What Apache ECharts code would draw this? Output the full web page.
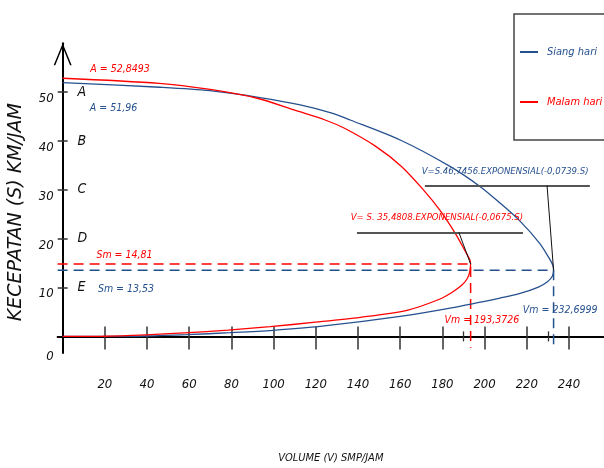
<!DOCTYPE html>
<html>
<head>
<meta charset="utf-8">
<script src="https://cdn.jsdelivr.net/npm/echarts@6/dist/echarts.min.js"></script>
<style>
  html, body { margin: 0; padding: 0; background: #fff; }
  #chart { width: 604px; height: 468px; }
</style>
</head>
<body>
<div id="chart"></div>
<script>
// Hubungan kecepatan – volume, siang hari dan malam hari
const seriesNames = ['Siang hari', 'Malam hari'];

// [volume V (smp/jam), kecepatan S (km/jam)] along each curve, free flow -> capacity -> jam
const siangCurve = [
  [0, 51.96], [46.1, 51.0], [69.8, 50.3], [93.5, 48.9], [112.6, 47.4], [126.8, 45.8],
  [136.3, 44.3], [160.0, 40.2], [183.6, 34.8], [197.8, 30.7], [207.3, 27.3], [216.8, 23.6],
  [226.2, 19.0], [231.0, 15.7], [232.4, 14.5], [232.6999, 13.53], [232.1, 12.3], [229.8, 11.2],
  [225.5, 10.1], [216.8, 8.8], [207.3, 7.85], [183.6, 5.8], [160.0, 4.1], [122.0, 2.04],
  [99.8, 1.25], [79.3, 0.76], [58.8, 0.35], [39.8, 0.08], [19.0, 0], [0, 0]
];
const malamCurve = [
  [0, 52.8493], [45.8, 51.8], [69.1, 50.6], [92.2, 48.75], [110.7, 46.2], [124.4, 44.3],
  [133.6, 42.6], [148.4, 38.9], [160.6, 34.8], [171.0, 30.0], [178.7, 25.9], [186.1, 21.1],
  [190.5, 17.7], [192.9, 15.8], [193.3726, 14.81], [192.9, 13.1], [191.6, 11.7], [189.0, 10.4],
  [184.5, 9.0], [178.6, 7.6], [163.7, 5.4], [141.0, 3.9], [119.8, 2.9], [98.3, 2.0],
  [78.4, 1.3], [57.8, 0.7], [39.6, 0.3], [19.1, 0.03], [0, 0]
];

// capacity points and free-flow speeds
const freeFlow = { siang: 51.96, malam: 52.8493 };
const capacity = {
  siang: { sm: 13.53, vm: 232.6999 },
  malam: { sm: 14.81, vm: 193.3726 }
};
const equations = {
  siang: 'V=S.46,7456.EXPONENSIAL(-0,0739.S)',
  malam: 'V= S. 35,4808.EXPONENSIAL(-0,0675.S)'
};

// axis ticks and level-of-service letters
const volumeTicks = [20, 40, 60, 80, 100, 120, 140, 160, 180, 200, 220, 240];
const volumeSubTicks = [190, 230];
const speedTicks = [10, 20, 30, 40, 50];
const speedLabels = [0, 10, 20, 30, 40, 50];
const losLetters = ['E', 'D', 'C', 'B', 'A'];

const BLUE = '#25508e';
const RED = '#ff0000';
const NARROW = '"DejaVu Sans Condensed", "Liberation Sans Narrow", "Liberation Sans", Arial, sans-serif';
const X_MIN = -2.4, X_MAX = 256.6, Y_MIN = -3.4, Y_MAX = 60;

const fmt = (v) => v.toFixed(v % 1 === 0 ? 0 : 2).replace('.', ',');
const num = (v) => String(v).replace('.', ',');

function capacityGuide(c) {
  return [[X_MIN, c.sm], [c.vm, c.sm], [c.vm, -2.3]];
}

function note(text, coord, color, size) {
  return {
    name: text, coord: coord,
    label: { color: color, fontSize: size || 10.5 }
  };
}

const chart = echarts.init(document.getElementById('chart'), null, { renderer: 'canvas' });

const option = {
  animation: false,
  backgroundColor: '#ffffff',
  grid: { left: 57.6, right: 0, top: 43.3, bottom: 115, containLabel: false, outerBoundsMode: 'none' },
  legend: {
    data: [
      { name: seriesNames[0], textStyle: { color: BLUE } },
      { name: seriesNames[1], textStyle: { color: RED } }
    ],
    orient: 'vertical',
    left: 514, top: 14,
    padding: [32.5, 40, 32.5, 6],
    itemGap: 39,
    itemWidth: 18, itemHeight: 2,
    icon: 'rect',
    borderColor: '#444', borderWidth: 1.5,
    selectedMode: false,
    textStyle: { fontFamily: NARROW, fontStyle: 'italic', fontSize: 11, padding: [0, 0, 0, 4] }
  },
  xAxis: [
    {
      type: 'value', min: X_MIN, max: X_MAX, position: 'bottom',
      axisLine: { onZero: true, onZeroAxisIndex: 0, lineStyle: { color: '#000', width: 2 } },
      axisTick: { customValues: volumeTicks, length: 13, lineStyle: { color: '#333', width: 1.5 } },
      axisLabel: {
        customValues: volumeTicks, margin: 25,
        fontFamily: NARROW, fontStyle: 'italic', fontSize: 13, color: '#111'
      },
      splitLine: { show: false },
      name: 'VOLUME (V) SMP/JAM', nameLocation: 'middle', nameGap: 100, nameMoveOverlap: false,
      nameTextStyle: { fontFamily: NARROW, fontStyle: 'italic', fontSize: 11, color: '#111' }
    },
    {
      type: 'value', min: X_MIN, max: X_MAX, position: 'bottom',
      axisLine: { show: false, onZero: true, onZeroAxisIndex: 0 },
      axisTick: { inside: true, customValues: volumeTicks, length: 10, lineStyle: { color: '#333', width: 1.5 } },
      axisLabel: { show: false },
      splitLine: { show: false }
    },
    {
      type: 'value', min: X_MIN, max: X_MAX, position: 'bottom',
      axisLine: { show: false, onZero: true, onZeroAxisIndex: 0 },
      axisTick: { customValues: volumeSubTicks, length: 5, lineStyle: { color: '#333', width: 1.3 } },
      axisLabel: { show: false },
      splitLine: { show: false }
    },
    {
      type: 'value', min: X_MIN, max: X_MAX, position: 'bottom',
      axisLine: { show: false, onZero: true, onZeroAxisIndex: 0 },
      axisTick: { inside: true, customValues: volumeSubTicks, length: 5, lineStyle: { color: '#333', width: 1.3 } },
      axisLabel: { show: false },
      splitLine: { show: false }
    }
  ],
  yAxis: [
    {
      type: 'value', min: Y_MIN, max: Y_MAX, position: 'left',
      axisLine: {
        onZero: true, onZeroAxisIndex: 0,
        symbol: ['none', 'path://M0,22 L9,0 L18,22 L16.4,22 L9,3.6 L1.6,22 Z'],
        symbolSize: [19, 22], symbolOffset: [0, -11],
        lineStyle: { color: '#000', width: 2 }
      },
      axisTick: { customValues: speedTicks, length: 5, lineStyle: { color: '#333', width: 1.5 } },
      axisLabel: {
        customValues: speedLabels, margin: 4, verticalAlign: 'top',
        fontFamily: NARROW, fontStyle: 'italic', fontSize: 13, color: '#111',
        formatter: (v) => (v === 0 ? '{z|0}' : String(v)),
        rich: { z: { fontFamily: NARROW, fontStyle: 'italic', fontSize: 13, color: '#111', padding: [14, 0, 0, 0] } }
      },
      splitLine: { show: false },
      name: 'KECEPATAN (S) KM/JAM', nameLocation: 'middle', nameGap: 32, nameRotate: 90,
      nameMoveOverlap: false,
      nameTextStyle: {
        fontFamily: '"DejaVu Sans", Arial, sans-serif', fontStyle: 'italic', fontSize: 19,
        color: '#111', padding: [0, 28, 0, 0]
      }
    },
    {
      type: 'value', min: Y_MIN, max: Y_MAX, position: 'left',
      axisLine: { show: false, onZero: true, onZeroAxisIndex: 0 },
      axisTick: { inside: true, customValues: speedTicks, length: 5, lineStyle: { color: '#333', width: 1.5 } },
      axisLabel: {
        inside: true, customValues: speedTicks, margin: 20,
        fontFamily: NARROW, fontStyle: 'italic', fontSize: 14, color: '#111',
        formatter: (v) => losLetters[speedTicks.indexOf(v)] || ''
      },
      splitLine: { show: false }
    }
  ],
  series: [
    {
      name: seriesNames[0], type: 'line', data: siangCurve,
      showSymbol: false, smooth: 0.3, clip: false,
      lineStyle: { color: BLUE, width: 1.3 }, itemStyle: { color: BLUE },
      z: 3
    },
    {
      name: seriesNames[1], type: 'line', data: malamCurve,
      showSymbol: false, smooth: 0.3, clip: false,
      lineStyle: { color: RED, width: 1.3 }, itemStyle: { color: RED },
      z: 4
    },
    {
      name: 'Sm/Vm siang', type: 'line', data: capacityGuide(capacity.siang),
      showSymbol: false, clip: false, silent: true,
      lineStyle: { color: BLUE, width: 1.5, type: [10, 6] }, z: 2
    },
    {
      name: 'Sm/Vm malam', type: 'line', data: capacityGuide(capacity.malam),
      showSymbol: false, clip: false, silent: true,
      lineStyle: { color: RED, width: 1.5, type: [10, 6] }, z: 2
    },
    {
      name: 'catatan', type: 'line', data: [], clip: false, silent: true,
      markLine: {
        silent: true, symbol: ['none', 'none'], animation: false,
        label: { show: false },
        data: [
          [{ coord: [171.7, 30.9], lineStyle: { color: '#555', width: 2, type: 'solid' } }, { coord: [249.9, 30.9] }],
          [{ coord: [139.5, 21.3], lineStyle: { color: '#555', width: 2, type: 'solid' } }, { coord: [218.2, 21.3] }],
          [{ coord: [229.6, 30.9], lineStyle: { color: '#111', width: 1, type: 'solid' } },
           { coord: [capacity.siang.vm, capacity.siang.sm] }],
          [{ coord: [187.8, 21.3], lineStyle: { color: '#111', width: 1, type: 'solid' } },
           { coord: [capacity.malam.vm, capacity.malam.sm] }]
        ]
      },
      markPoint: {
        silent: true, symbol: 'circle', symbolSize: 0, animation: false,
        itemStyle: { color: 'rgba(0,0,0,0)' },
        label: {
          show: true, position: 'inside', formatter: '{b}',
          fontFamily: NARROW, fontStyle: 'italic', fontSize: 10.5
        },
        data: [
          note('A = ' + num(freeFlow.malam), [27.2, 54.6], RED),
          note('A = ' + num(freeFlow.siang), [24.1, 46.7], BLUE),
          note('Sm = ' + fmt(capacity.malam.sm), [29.3, 16.7], RED),
          note('Sm = ' + fmt(capacity.siang.sm), [30.0, 9.7], BLUE),
          note('Vm = ' + num(capacity.malam.vm), [198.7, 3.4], RED),
          note('Vm = ' + num(capacity.siang.vm), [235.8, 5.3], BLUE),
          note(equations.siang, [209.7, 33.8], BLUE, 9.5),
          note(equations.malam, [177.4, 24.3], RED, 9.5)
        ]
      }
    }
  ]
};

chart.setOption(option);
</script>
</body>
</html>
